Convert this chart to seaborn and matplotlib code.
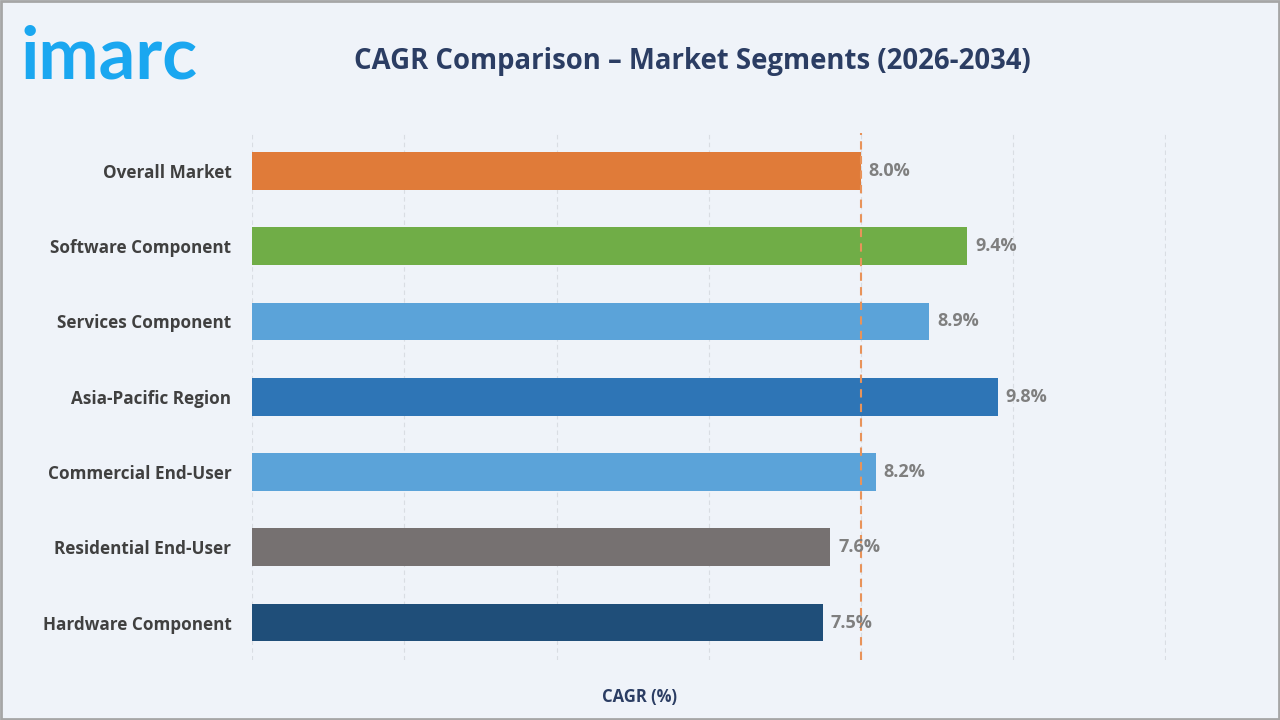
import matplotlib.pyplot as plt
import seaborn as sns
import pandas as pd

# chart data
segments = [
    "Overall Market",
    "Software Component",
    "Services Component",
    "Asia-Pacific Region",
    "Commercial End-User",
    "Residential End-User",
    "Hardware Component",
]
cagr = [8.0, 9.4, 8.9, 9.8, 8.2, 7.6, 7.5]
bar_colors = ["#E07B39", "#70AD47", "#5BA3D9", "#2E75B6", "#5BA3D9", "#767171", "#1F4E79"]
reference_cagr = 8.0
x_ticks = [0, 2, 4, 6, 8, 10, 12]

df = pd.DataFrame({"segment": segments, "cagr": cagr})

bg = "#EFF3F9"
sns.set_style("white")
plt.rcParams["font.family"] = ["Open Sans", "DejaVu Sans"]

fig = plt.figure(figsize=(12.8, 7.2), dpi=100, facecolor=bg)
ax = fig.add_axes([0.197, 0.083, 0.714, 0.732])
ax.set_facecolor(bg)

sns.barplot(data=df, x="cagr", y="segment", hue="segment", palette=bar_colors,
            legend=False, width=0.5, saturation=1, linewidth=0, ax=ax, orient="h")

ax.set_xlim(0, 12.01)
ax.set_xticks(x_ticks)
ax.tick_params(axis="x", length=0, labelbottom=False)
ax.tick_params(axis="y", length=0, pad=15)
for lab in ax.get_yticklabels():
    lab.set_fontweight("bold")
    lab.set_fontsize(12.3)
    lab.set_color("#404040")
ax.grid(axis="x", color="#D9DDE3", linestyle=(0, (4, 3)), linewidth=0.8)
ax.set_axisbelow(True)
for s in ax.spines.values():
    s.set_visible(False)
ax.set_xlabel("")
ax.set_ylabel("")

ax.axvline(reference_cagr, color="#E8935A", linestyle=(0, (4, 3)), linewidth=1.5, zorder=1)

for i, v in enumerate(cagr):
    ax.text(v + 0.1, i, f"{v:.1f}%", va="center", ha="left", fontsize=13,
            fontweight="bold", color="#7F7F7F", zorder=5)

fig.text(0.541, 0.915, "CAGR Comparison \u2013 Market Segments (2026-2034)",
         ha="center", va="center", fontsize=19.8, fontweight="bold", color="#2B3D63")
fig.text(0.5, 0.032, "CAGR (%)", ha="center", va="center", fontsize=12,
         fontweight="bold", color="#2B3D63")
fig.text(0.016, 0.92, "imarc", ha="left", va="center", fontsize=52,
         fontweight="bold", color="#1AA7F0", family=["Lato", "DejaVu Sans"])

fig.patches.append(plt.Rectangle((0.001, 0.002), 0.998, 0.996, transform=fig.transFigure,
                                 fill=False, edgecolor="#A6A6A6", linewidth=2))

fig.savefig("out.png", dpi=100, facecolor=bg)
